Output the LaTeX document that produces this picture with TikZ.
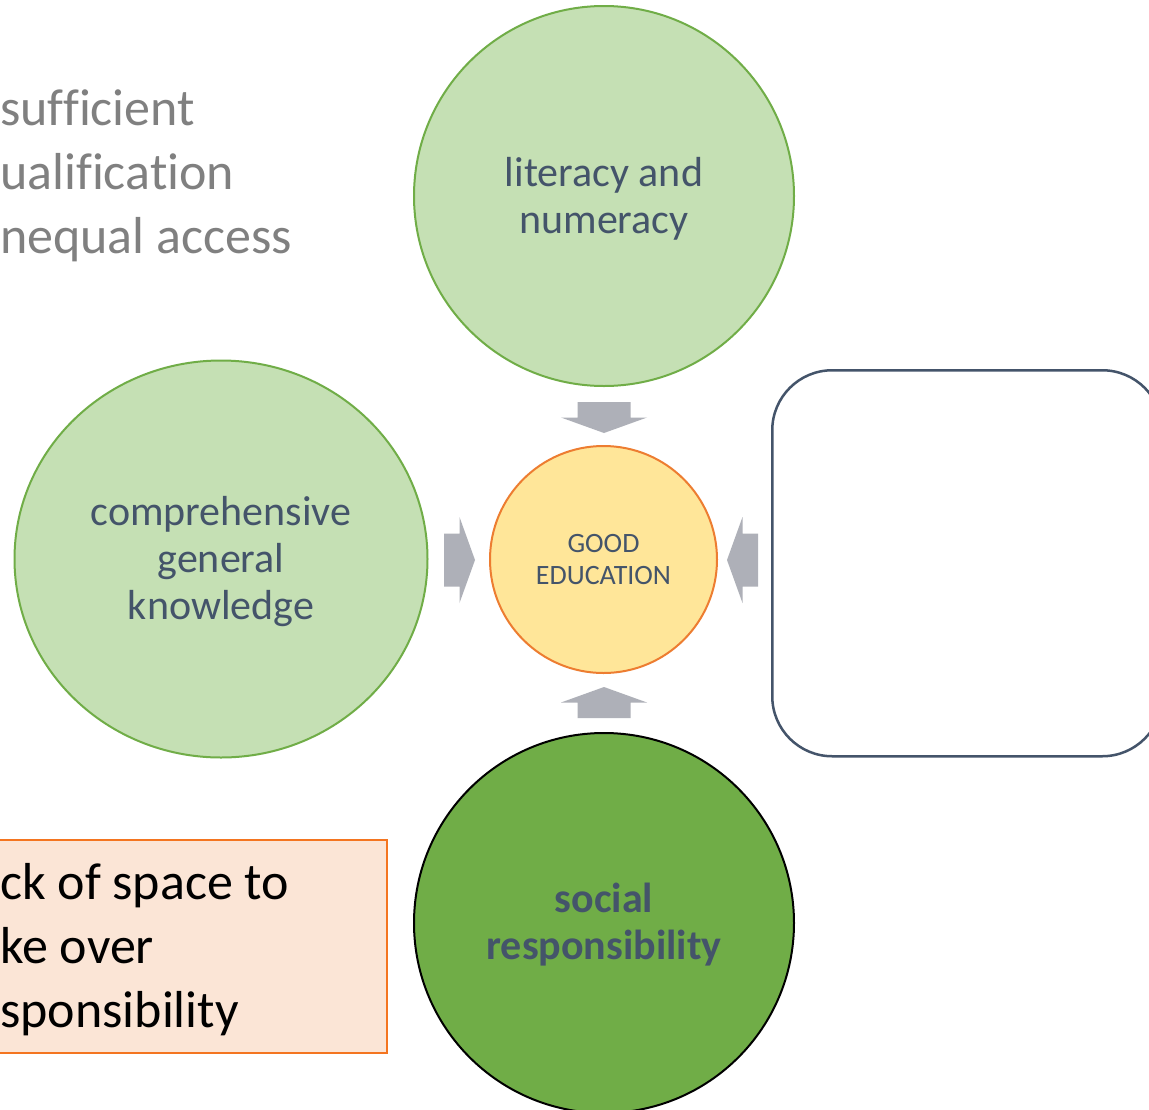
\documentclass[tikz,border=0pt]{standalone}
\usepackage{fontspec}
\setmainfont{Carlito}[Ligatures={NoCommon}]
\usetikzlibrary{shapes.geometric}
\definecolor{lgreen}{HTML}{C5E0B4}
\definecolor{mgreen}{HTML}{70AD47}
\definecolor{txtblue}{HTML}{44546A}
\definecolor{gold}{HTML}{FFE699}
\definecolor{orng}{HTML}{ED7D31}
\definecolor{orngbox}{HTML}{F47520}
\definecolor{peach}{HTML}{FBE5D6}
\definecolor{agray}{HTML}{AEB0B8}
\definecolor{gtxt}{HTML}{808080}
\tikzset{
  lightcirc/.style={circle, draw=mgreen, fill=lgreen, line width=2pt, inner sep=0pt, text=txtblue, align=center, font=\fontsize{42}{47}\selectfont},
  centercirc/.style={circle, draw=orng, fill=gold, line width=2pt, inner sep=0pt, minimum size=227pt, text=txtblue, align=center, font=\fontsize{28}{32}\selectfont},
  darkcirc/.style={circle, draw=black, fill=mgreen, line width=2pt, inner sep=0pt, minimum size=380pt, text=txtblue, align=center, font=\fontsize{42}{47}\selectfont\bfseries},
  blankbox/.style={draw=txtblue, fill=white, line width=2.5pt, rounded corners=60pt, inner sep=0pt},
  lackbox/.style={draw=orngbox, fill=peach, line width=2pt, inner sep=0pt},
  bigtext/.style={inner sep=0pt, align=left, font=\fontsize{52}{64}\selectfont},
  barrow/.pic={\fill[agray] (0,-26.5) -- (15.5,-26.5) -- (15.5,-43) -- (31,0) -- (15.5,43) -- (15.5,26.5) -- (0,26.5) -- cycle;}
}
\begin{document}
\begin{tikzpicture}[x=1pt,y=-1pt]
\useasboundingbox (0,0) rectangle (1149,1109);
\clip (0,0) rectangle (1149,1109);
\fill[white] (0,0) rectangle (1149,1109);

% top-left grey text
\node (issues) [bigtext, text=gtxt, anchor=west] at (0,176) {sufficient\\ualification\\nequal access};

% circles
\node (lit) [lightcirc, minimum size=380pt] at (604,196) {};
\node (gen) [lightcirc, ellipse, minimum width=413pt, minimum height=397pt] at (221,559) {};
\node (good) [centercirc] at (603.5,559.5) {};
\node (soc) [darkcirc] at (604,923) {};
\node (littxt) [lightcirc, draw=none, fill=none, minimum size=0pt] at (604,199) {literacy and\\numeracy};
\node (gentxt) [lightcirc, draw=none, fill=none, minimum size=0pt] at (221,562) {comprehensive\\general\\knowledge};
\node (goodtxt) [centercirc, draw=none, fill=none, minimum size=0pt] at (603.5,559.5) {GOOD\\EDUCATION};
\node (soctxt) [darkcirc, draw=none, fill=none, minimum size=0pt] at (604,924.5) {social\\responsibility};

% right empty rounded box
\node (empty) [blankbox, minimum width=390pt, minimum height=386pt, anchor=north west] at (771,369) {};

% orange box
\node (lack) [lackbox, minimum width=408pt, minimum height=213pt, anchor=north east] at (388,839) {};
\node (lacktxt) [bigtext, text=black, anchor=west] at (0,949.5) {ck of space to\\ke over\\sponsibility};

% block arrows
\coordinate (atop) at (604,402);
\coordinate (abot) at (604,718);
\coordinate (aleft) at (444,560);
\coordinate (aright) at (758,560);
\pic[rotate=-90] at (atop) {barrow};
\pic[rotate=90] at (abot) {barrow};
\pic at (aleft) {barrow};
\pic[rotate=180] at (aright) {barrow};
\end{tikzpicture}
\end{document}
